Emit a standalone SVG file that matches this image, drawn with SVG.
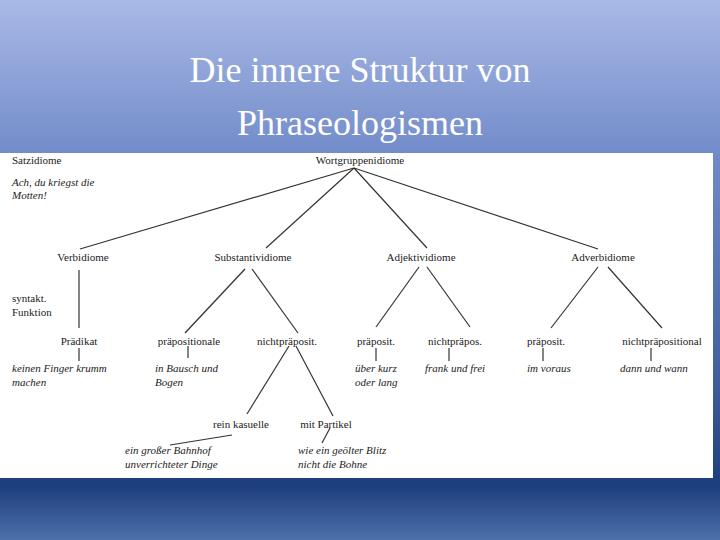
<svg xmlns="http://www.w3.org/2000/svg" width="720" height="540" viewBox="0 0 720 540">
<defs>
<linearGradient id="bg" x1="0" y1="0" x2="0" y2="1">
<stop offset="0" stop-color="#a9b9e6"/><stop offset="0.3" stop-color="#6f89c8"/><stop offset="0.7" stop-color="#3f5f9f"/><stop offset="0.9" stop-color="#1d3e7c"/><stop offset="1" stop-color="#4d70aa"/>
</linearGradient>
<style>
.t{font-family:"Liberation Serif","Times New Roman","DejaVu Serif",serif;font-size:11px;fill:#222}
.i{font-style:italic}
.m{text-anchor:middle}
.h{font-family:"Liberation Serif","Times New Roman","DejaVu Serif",serif;font-size:36px;fill:#fff;text-anchor:middle}
line{stroke:#333;stroke-width:1.2}
</style>
</defs>
<rect width="720" height="540" fill="url(#bg)"/>
<text class="h" x="360" y="82">Die innere Struktur von</text>
<text class="h" x="360" y="135">Phraseologismen</text>
<rect x="0" y="153" width="713" height="325" fill="#fff"/>
<g id="connectors">
<line x1="354" y1="168" x2="80" y2="249"/><line x1="354" y1="168" x2="266" y2="248"/>
<line x1="354" y1="168" x2="427" y2="248"/><line x1="354" y1="168" x2="598" y2="249"/>
<line x1="79" y1="270" x2="79" y2="328"/><line x1="79" y1="348" x2="79" y2="361"/>
<line x1="245" y1="269" x2="185" y2="333"/><line x1="252" y1="269" x2="298" y2="333"/>
<line x1="188" y1="346" x2="188" y2="358"/>
<line x1="289" y1="346" x2="247" y2="414"/><line x1="296" y1="346" x2="333" y2="416"/>
<line x1="330" y1="428" x2="322" y2="443"/><line x1="232" y1="435" x2="170" y2="445"/>
<line x1="419" y1="267" x2="376" y2="327"/><line x1="427" y1="267" x2="470" y2="327"/>
<line x1="376" y1="348" x2="376" y2="361"/><line x1="449" y1="348" x2="449" y2="361"/>
<line x1="598" y1="267" x2="551" y2="328"/><line x1="608" y1="267" x2="662" y2="328"/>
<line x1="543" y1="348" x2="543" y2="361"/><line x1="651" y1="348" x2="651" y2="361"/>
</g>
<g id="n-satz"><text class="t" x="12" y="164">Satzidiome</text><text class="t i" x="12" y="186">Ach, du kriegst die</text><text class="t i" x="12" y="199">Motten!</text></g>
<g id="n-root"><text class="t m" x="360" y="164">Wortgruppenidiome</text></g>
<g id="n-verb"><text class="t m" x="83" y="261">Verbidiome</text></g>
<g id="n-subst"><text class="t m" x="253" y="261">Substantividiome</text></g>
<g id="n-adj"><text class="t m" x="421" y="261">Adjektividiome</text></g>
<g id="n-adv"><text class="t m" x="603" y="261">Adverbidiome</text></g>
<g id="n-synt"><text class="t" x="12" y="302">syntakt.</text><text class="t" x="12" y="316">Funktion</text></g>
<g id="n-praed"><text class="t m" x="79" y="345">Prädikat</text><text class="t i" x="12" y="372">keinen Finger krumm</text><text class="t i" x="12" y="386">machen</text></g>
<g id="n-praepos"><text class="t m" x="189" y="345">präpositionale</text><text class="t i" x="155" y="372">in Bausch und</text><text class="t i" x="155" y="386">Bogen</text></g>
<g id="n-nichtp"><text class="t m" x="287" y="345">nichtpräposit.</text></g>
<g id="n-adjp"><text class="t m" x="376" y="345">präposit.</text><text class="t i" x="355" y="372">über kurz</text><text class="t i" x="355" y="386">oder lang</text></g>
<g id="n-adjn"><text class="t m" x="455" y="345">nichtpräpos.</text><text class="t i" x="425" y="372">frank und frei</text></g>
<g id="n-advp"><text class="t m" x="546" y="345">präposit.</text><text class="t i" x="527" y="372">im voraus</text></g>
<g id="n-advn"><text class="t m" x="662" y="345">nichtpräpositional</text><text class="t i" x="620" y="372">dann und wann</text></g>
<g id="n-rein"><text class="t m" x="241" y="428">rein kasuelle</text><text class="t i" x="125" y="454">ein großer Bahnhof</text><text class="t i" x="125" y="468">unverrichteter Dinge</text></g>
<g id="n-mit"><text class="t m" x="326" y="428">mit Partikel</text><text class="t i" x="298" y="454">wie ein geölter Blitz</text><text class="t i" x="298" y="468">nicht die Bohne</text></g>
</svg>
